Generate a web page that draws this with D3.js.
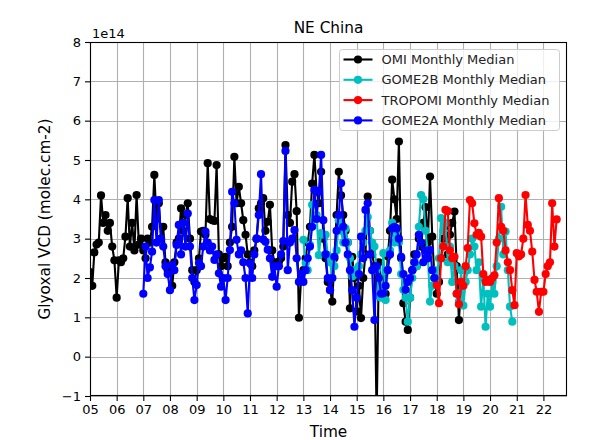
<!DOCTYPE html>
<html>
<head>
<meta charset="utf-8">
<script src="https://cdn.jsdelivr.net/npm/d3@7"></script>
<style>
  body { margin: 0; background: #ffffff; }
  svg { display: block; font-family: "DejaVu Sans", sans-serif; }
</style>
</head>
<body>
<svg id="chart" width="590" height="440"></svg>
<script>
// Monthly median glyoxal VCD (1e14 molec.cm-2) over NE China, one value per month.
const omiStart = [2005, 0];
const omiValues = [
  2.15, 1.8, 2.65, 2.85, 2.9, 4.1, 3.4, 3.6, 3.2, 3.4, 2.8, 2.45,   // 2005
  1.5, 2.45, 2.4, 2.5, 3.05, 4.03, 2.8, 3.4, 2.7, 4.11, 2.85, 3.0,  // 2006
  2.7, 2.5, 3.0, 2.9, 3.3, 4.62, 3.5, 3.9, 3.0, 3.3, 2.4, 2.2,      // 2007
  2.3, 1.8, 2.4, 2.9, 3.0, 3.77, 3.2, 3.6, 3.9, 3.0, 2.2, 1.9,      // 2008
  2.2, 2.5, 3.18, 3.2, 3.1, 4.92, 3.5, 3.47, 3.45, 4.87, 2.6, 2.3,  // 2009
  2.5, 2.54, 2.3, 2.9, 3.3, 5.08, 3.9, 4.32, 3.9, 3.47, 3.1, 2.6,   // 2010
  2.4, 2.3, 2.7, 3.0, 3.77, 3.9, 4.03, 3.2, 3.43, 3.86, 2.7, 2.4,   // 2011
  2.3, 2.42, 2.5, 2.8, 5.38, 3.6, 3.4, 4.45, 4.64, 3.7, 0.99, 2.0,  // 2012
  2.2, 2.5, 2.9, 3.3, 4.4, 5.13, 4.2, 3.9, 4.7, 3.0, 2.5, 1.9,      // 2013
  1.7, 1.4, 2.5, 3.6, 4.7, 4.1, 3.6, 3.2, 2.9, 1.23, 2.54, 2.0,     // 2014
  1.15, 1.8, 0.98, 2.0, 2.6, 4.07, 3.2, 2.6, 2.3, -1.6, 2.4, 1.9,   // 2015
  2.0, 1.6, 2.55, 3.2, 4.5, 4.0, 3.5, 5.47, 2.5, 1.36, 0.89, 0.68,  // 2016
  1.5, 2.2, 2.6, 2.3, 3.0, 2.8, 3.4, 3.8, 2.9, 4.58, 3.05, 2.0,     // 2017
  1.6, 1.9, 2.5, 3.0, 3.3, 2.6, 3.1, 3.4, 3.69, 2.3, 0.93, 1.8      // 2018
];

const gome2bStart = [2013, 0];
const gome2bValues = [
  2.97, 2.38, 2.2, 2.84, 3.86, 3.5, 3.6, 2.58, 3.14, 3.1, 3.1, 2.58, // 2013
  2.4, 2.0, 2.3, 2.7, 3.47, 3.2, 2.9, 3.26, 2.9, 2.5, 2.04, 2.2,     // 2014
  2.1, 2.3, 2.6, 2.9, 3.2, 3.55, 3.2, 2.9, 2.8, 2.2, 1.54, 1.5,      // 2015
  2.63, 1.44, 2.2, 2.7, 3.4, 2.9, 3.2, 2.9, 2.1, 1.7, 1.5, 0.89,     // 2016
  1.5, 2.0, 2.4, 2.3, 3.3, 4.11, 4.0, 3.2, 2.6, 1.4, 1.8, 2.2,       // 2017
  2.0, 2.5, 3.52, 3.2, 3.4, 2.4, 2.8, 1.9, 2.3, 1.6, 1.4, 2.2,       // 2018
  1.3, 1.9, 2.2, 2.6, 3.0, 2.8, 2.2, 2.4, 1.27, 2.0, 0.76, 1.6,      // 2019
  1.27, 1.9, 1.6, 2.3, 3.0, 3.81, 2.6, 3.18, 2.2, 1.27, 0.89         // 2020
];

const tropomiStart = [2018, 0];
const tropomiValues = [
  1.82, 1.36, 2.5, 2.8, 3.73, 3.7, 2.7, 2.5, 2.54, 1.6, 1.33, 1.9,   // 2018
  1.8, 2.3, 2.76, 3.98, 3.9, 3.39, 3.1, 3.15, 3.05, 2.1, 1.9, 1.95,  // 2019
  1.9, 2.0, 2.07, 2.9, 4.03, 3.3, 3.2, 2.7, 2.4, 2.2, 1.69, 1.31,    // 2020
  2.63, 2.55, 2.6, 3.0, 4.11, 3.35, 3.2, 2.67, 1.95, 1.65, 1.14, 1.65, // 2021
  1.65, 2.1, 2.3, 2.4, 3.9, 2.8, 3.49                                // 2022
];

const gome2aStart = [2007, 0];
const gome2aValues = [
  1.6, 2.8, 2.0, 2.27, 2.67, 3.98, 2.9, 3.98, 3.0, 2.8, 2.3, 2.1,    // 2007
  1.69, 2.33, 2.2, 2.84, 3.35, 2.6, 3.4, 2.8, 3.64, 2.8, 2.0, 1.44,  // 2008
  1.82, 2.38, 2.3, 2.8, 3.18, 2.9, 2.7, 2.8, 2.46, 2.6, 2.12, 1.78,  // 2009
  2.0, 1.44, 2.0, 2.71, 4.19, 3.9, 2.97, 2.6, 2.7, 2.4, 2.0, 1.1,    // 2010
  2.37, 2.0, 2.6, 3.0, 3.6, 4.64, 2.98, 2.92, 2.72, 2.5, 2.03, 2.3,  // 2011
  1.78, 2.3, 2.6, 2.94, 5.23, 2.2, 2.9, 3.0, 3.22, 2.5, 1.9, 2.1,    // 2012
  1.9, 2.2, 2.5, 2.8, 3.3, 4.24, 3.5, 4.2, 5.13, 3.47, 2.6, 2.0,     // 2013
  1.69, 2.0, 2.54, 3.2, 3.6, 4.41, 3.3, 2.9, 2.6, 2.2, 1.69, 0.76,   // 2014
  1.5, 2.1, 3.05, 2.5, 3.73, 3.9, 2.6, 2.2, 0.93, 2.3, 2.0, 1.6,     // 2015
  1.61, 1.8, 2.2, 2.6, 3.26, 3.3, 3.26, 3.0, 2.54, 2.1, 1.7, 1.9,    // 2016
  2.0, 2.2, 2.4, 2.6, 3.1, 2.9, 2.4, 2.7, 2.5, 2.71, 2.2, 2.0        // 2017
];

const seriesNames = ["OMI Monthly Median", "GOME2B Monthly Median", "TROPOMI Monthly Median", "GOME2A Monthly Median"];
const seriesColors = ["#000000", "#00bfbf", "#ff0000", "#0000ff"];
const yearTicks = d3.range(2005, 2023);
const yTicks = d3.range(-1, 9);

function toMonthly(start, values) {
  return values.map((v, i) => ({ date: new Date(start[0], start[1] + i, 1), value: v }));
}

const series = [
  toMonthly(omiStart, omiValues),
  toMonthly(gome2bStart, gome2bValues),
  toMonthly(tropomiStart, tropomiValues),
  toMonthly(gome2aStart, gome2aValues)
].map((data, i) => ({ name: seriesNames[i], color: seriesColors[i], data }));

const svg = d3.select("#chart");
const plot = { left: 90, right: 567, top: 42, bottom: 396 };

const x = d3.scaleTime()
  .domain([new Date(2005, 0, 1), new Date(2022, 10, 20)])
  .range([plot.left, plot.right]);
const y = d3.scaleLinear().domain([-1, 8]).range([plot.bottom, plot.top]);

svg.append("defs").append("clipPath").attr("id", "plotClip")
  .append("rect")
  .attr("x", plot.left).attr("y", plot.top)
  .attr("width", plot.right - plot.left).attr("height", plot.bottom - plot.top);

// grid
const grid = svg.append("g").attr("stroke", "#b0b0b0").attr("stroke-width", 1.1);
grid.selectAll("line.v").data(yearTicks).join("line")
  .attr("x1", d => Math.round(x(new Date(d, 0, 1))) + 0.5)
  .attr("x2", d => Math.round(x(new Date(d, 0, 1))) + 0.5)
  .attr("y1", plot.top).attr("y2", plot.bottom);
grid.selectAll("line.h").data(yTicks).join("line")
  .attr("y1", d => Math.round(y(d)) + 0.5)
  .attr("y2", d => Math.round(y(d)) + 0.5)
  .attr("x1", plot.left).attr("x2", plot.right);

// series
const line = d3.line().x(d => x(d.date)).y(d => y(d.value));
const marks = svg.append("g").attr("clip-path", "url(#plotClip)");
series.forEach(s => {
  const g = marks.append("g");
  g.append("path").datum(s.data)
    .attr("d", line)
    .attr("fill", "none")
    .attr("stroke", s.color)
    .attr("stroke-width", 2.1)
    .attr("stroke-linejoin", "round");
  g.selectAll("circle").data(s.data).join("circle")
    .attr("cx", d => x(d.date))
    .attr("cy", d => y(d.value))
    .attr("r", 4.1)
    .attr("fill", s.color);
});

// frame
svg.append("rect")
  .attr("x", plot.left + 0.5).attr("y", plot.top + 0.5)
  .attr("width", plot.right - plot.left - 1).attr("height", plot.bottom - plot.top - 1)
  .attr("fill", "none").attr("stroke", "#000").attr("stroke-width", 1.1);

// axes
const xAxis = d3.axisBottom(x)
  .tickValues(yearTicks.map(yr => new Date(yr, 0, 1)))
  .tickFormat(d3.timeFormat("%y"))
  .tickSize(5).tickPadding(4);
const gx = svg.append("g").attr("transform", `translate(0,${plot.bottom})`).call(xAxis);
gx.select(".domain").remove();
gx.selectAll("text").attr("font-size", 13).attr("font-family", "DejaVu Sans").attr("fill", "#000");
gx.selectAll("line").attr("stroke", "#000").attr("stroke-width", 1.1);

const yAxis = d3.axisLeft(y)
  .tickValues(yTicks)
  .tickFormat(d => d < 0 ? "\u2212" + Math.abs(d) : String(d))
  .tickSize(5).tickPadding(4);
const gy = svg.append("g").attr("transform", `translate(${plot.left},0)`).call(yAxis);
gy.select(".domain").remove();
gy.selectAll("text").attr("font-size", 13).attr("font-family", "DejaVu Sans").attr("fill", "#000");
gy.selectAll("line").attr("stroke", "#000").attr("stroke-width", 1.1);

// offset text, title and axis labels
svg.append("text").attr("x", plot.left + 2).attr("y", 38)
  .attr("font-size", 13).text("1e14");
svg.append("text").attr("x", (plot.left + plot.right) / 2).attr("y", 33)
  .attr("text-anchor", "middle").attr("font-size", 15.3).text("NE China");
svg.append("text").attr("x", (plot.left + plot.right) / 2).attr("y", 437)
  .attr("text-anchor", "middle").attr("font-size", 15.3).text("Time");
svg.append("text")
  .attr("transform", `translate(50,${(plot.top + plot.bottom) / 2}) rotate(-90)`)
  .attr("text-anchor", "middle").attr("font-size", 15.3)
  .text("Glyoxal VCD (molec.cm-2)");

// legend
const legend = svg.append("g").attr("transform", "translate(339.5,49.5)");
legend.append("rect")
  .attr("width", 220).attr("height", 81).attr("rx", 3)
  .attr("fill", "#ffffff").attr("fill-opacity", 0.8)
  .attr("stroke", "#cccccc").attr("stroke-width", 1);
series.forEach((s, i) => {
  const row = legend.append("g").attr("transform", `translate(0,${10 + i * 20.3})`);
  row.append("line").attr("x1", 4).attr("x2", 33).attr("stroke", s.color).attr("stroke-width", 2.1);
  row.append("circle").attr("cx", 18.5).attr("r", 4.1).attr("fill", s.color);
  row.append("text").attr("x", 42).attr("dy", "0.35em").attr("font-size", 13).attr("fill", "#222").text(s.name);
});
</script>
</body>
</html>
